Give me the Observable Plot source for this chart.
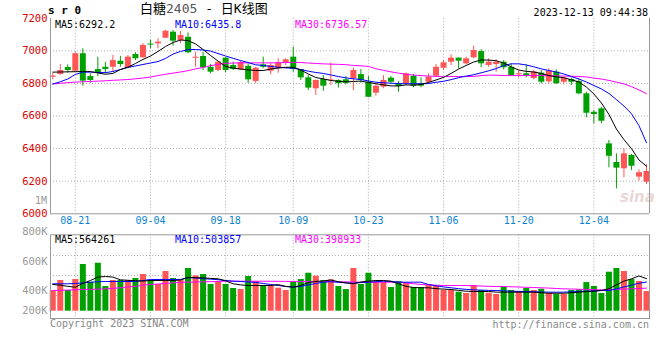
<!DOCTYPE html>
<html><head><meta charset="utf-8">
<script src="https://cdn.jsdelivr.net/npm/d3@7"></script>
<script src="https://cdn.jsdelivr.net/npm/@observablehq/plot@0.6"></script>
<style>
body{margin:0;background:#fff;}
#c{position:relative;width:660px;height:360px;font-family:"DejaVu Sans Mono",monospace;overflow:hidden;}
#c svg{position:absolute;left:0;overflow:visible;background:none;}
.t{position:absolute;white-space:nowrap;font-size:10px;line-height:10px;}
</style></head><body><div id="c"></div>
<script>
// ---- data ----
const dates = ["08-16","08-17","08-18","08-21","08-22","08-23","08-24","08-25","08-28","08-29","08-30","08-31","09-01","09-04","09-05","09-06","09-07","09-08","09-11","09-12","09-13","09-14","09-15","09-18","09-19","09-20","09-21","09-22","09-25","09-26","09-27","09-28","10-09","10-10","10-11","10-12","10-13","10-16","10-17","10-18","10-19","10-20","10-23","10-24","10-25","10-26","10-27","10-30","10-31","11-01","11-02","11-03","11-06","11-07","11-08","11-09","11-10","11-13","11-14","11-15","11-16","11-17","11-20","11-21","11-22","11-23","11-24","11-27","11-28","11-29","11-30","12-01","12-04","12-05","12-06","12-07","12-08","12-11","12-12","12-13"];
const open  = [6838,6855,6898,6875,6982,6842,6885,6899,6899,6936,6893,6977,6957,7040,7043,7077,7114,7063,7083,6955,6965,6899,6879,6955,6910,6883,6905,6812,6914,6875,6893,6926,6961,6885,6834,6767,6824,6816,6818,6822,6828,6854,6807,6740,6777,6832,6798,6798,6844,6798,6807,6844,6893,6930,6955,6920,6957,6995,6910,6916,6930,6899,6853,6859,6830,6863,6810,6869,6807,6824,6812,6736,6623,6644,6429,6315,6276,6358,6225,6194];
const high  = [6860,6916,6914,6991,7012,6859,6961,6930,6971,6965,6971,6988,7043,7065,7074,7125,7125,7118,7110,6991,6990,6916,6932,6958,6930,6936,6920,6899,6961,6924,6951,6951,7022,6885,6848,6822,6848,6926,6822,6842,6895,6885,6842,6793,6848,6842,6812,6863,6855,6834,6859,6916,6940,6975,6955,6961,7028,7006,6951,6945,6940,6920,6879,6914,6880,6879,6890,6883,6838,6832,6828,6746,6634,6654,6450,6368,6399,6364,6270,6302];
const low   = [6822,6849,6863,6873,6783,6801,6842,6859,6869,6899,6890,6940,6955,7012,7012,7075,7028,7043,6982,6899,6879,6859,6873,6866,6879,6879,6801,6798,6890,6854,6863,6910,6869,6818,6756,6726,6752,6787,6771,6791,6756,6801,6712,6721,6767,6798,6746,6787,6773,6773,6798,6842,6879,6910,6890,6914,6951,6896,6899,6869,6883,6842,6834,6834,6822,6797,6797,6793,6791,6787,6730,6589,6552,6552,6282,6153,6221,6266,6200,6180];
const close = [6845,6879,6879,6982,6814,6818,6863,6885,6940,6916,6961,6951,7033,7037,7053,7120,7059,7094,6988,6960,6896,6869,6930,6879,6886,6928,6822,6893,6899,6910,6926,6945,6885,6834,6771,6818,6783,6820,6798,6801,6879,6818,6715,6783,6818,6807,6781,6859,6783,6783,6838,6899,6926,6955,6936,6951,7002,6920,6930,6930,6896,6848,6859,6848,6870,6807,6877,6798,6832,6807,6736,6617,6609,6568,6353,6280,6368,6292,6252,6260];
const ma5   = [6869,6870,6871,6872,6873,6873,6864,6856,6861,6885,6899,6922,6947,6968,6996,7026,7051,7066,7063,7042,7008,6971,6937,6904,6894,6888,6883,6879,6879,6888,6894,6899,6899,6882,6858,6836,6828,6818,6813,6809,6812,6814,6806,6798,6791,6785,6784,6791,6789,6793,6806,6821,6837,6861,6888,6910,6931,6944,6943,6939,6925,6901,6882,6874,6870,6861,6848,6840,6835,6822,6809,6778,6735,6680,6610,6520,6455,6400,6330,6292];
const ma10  = [6796,6810,6827,6855,6869,6869,6867,6866,6873,6885,6899,6907,6916,6925,6934,6953,6980,6996,7007,7008,7005,6998,6983,6968,6954,6940,6928,6914,6910,6904,6899,6895,6893,6885,6875,6867,6861,6852,6842,6834,6828,6824,6815,6807,6804,6801,6799,6798,6798,6798,6799,6807,6813,6823,6835,6845,6853,6865,6877,6891,6910,6920,6920,6913,6902,6889,6879,6870,6858,6842,6827,6809,6787,6766,6738,6701,6661,6614,6541,6436];
const ma30  = [6797,6800,6805,6808,6810,6812,6814,6816,6819,6821,6824,6828,6833,6839,6848,6856,6863,6870,6878,6889,6898,6909,6916,6923,6925,6926,6926,6926,6926,6926,6927,6928,6929,6928,6925,6922,6920,6918,6917,6915,6910,6908,6904,6890,6880,6871,6863,6856,6851,6848,6845,6843,6842,6842,6842,6842,6843,6848,6851,6850,6848,6848,6848,6848,6848,6848,6847,6846,6845,6844,6842,6840,6832,6827,6818,6808,6797,6780,6760,6737];
const volume = [358,531,358,548,808,502,830,427,531,531,531,566,635,531,462,687,566,531,739,611,635,462,502,462,393,375,600,514,445,445,398,358,514,548,657,605,531,543,427,375,739,462,657,502,502,410,514,484,410,410,462,427,358,358,329,306,445,358,311,289,410,358,340,393,358,380,306,289,289,358,370,496,427,306,675,739,687,548,514,340].map(v => v * 1000);
const vma5  = [462,450,430,415,480,531,590,600,590,543,535,528,522,531,531,531,531,540,585,580,577,568,560,525,474,455,445,445,445,445,460,430,416,445,495,515,522,540,510,490,474,505,520,531,531,520,474,430,410,405,405,390,382,375,360,346,341,341,341,330,329,329,329,329,329,320,311,311,311,320,329,340,346,358,387,455,520,560,610,564].map(v => v * 1000);
const vma10 = [474,474,474,480,490,500,510,514,514,514,514,514,530,550,548,548,548,550,580,575,562,555,545,531,520,514,505,498,480,462,445,427,416,430,455,480,502,510,500,490,484,495,502,510,519,515,502,502,502,502,462,440,420,405,390,378,370,365,360,358,352,346,343,341,338,333,329,329,329,335,342,346,352,358,358,385,420,450,484,504].map(v => v * 1000);
const vma30 = [358,362,366,370,375,378,382,386,395,405,420,430,450,462,470,480,490,500,502,505,508,512,515,519,519,519,519,519,519,518,517,516,515,515,514,514,514,514,510,508,505,502,502,502,502,502,502,490,475,462,455,450,445,445,445,445,440,435,430,428,427,423,418,414,410,405,400,393,387,384,380,377,373,370,372,377,382,387,393,399].map(v => v * 1000);
const priceTicks = [6000, 6200, 6400, 6600, 6800, 7000, 7200];
const dateTicks = ["08-21","09-04","09-18","10-09","10-23","11-06","11-20","12-04"];
const volAxisLabels = ["800K","600K","400K","200K"];
const volAxisAt = [1380000, 860000, 358000, 12000]; // volume levels where the reference prints these labels
const volGrid = [964000, 618000, 272000];
const legendPrice = ["MA5:6292.2","MA10:6435.8","MA30:6736.57"];
const legendVol = ["MA5:564261","MA10:503857","MA30:398933"];

// ---- drawing ----
const RED = "#ff5555", GREEN = "#00a000", GRID = "#aaa", BORDER = "#999";
const MONO = "DejaVu Sans Mono";
const idx = d3.range(dates.length);
const col = i => close[i] >= open[i] ? RED : GREEN;
const xTicks = dateTicks.map(d => dates.indexOf(d));
const xDomain = [-0.3, dates.length - 0.6];
const dot = {stroke: GRID, strokeDasharray: "1,2"};
const bodyEnd = i => Math.abs(close[i] - open[i]) < 6 ? (open[i] + close[i]) / 2 + 3 : close[i];
const bodyStart = i => Math.abs(close[i] - open[i]) < 6 ? (open[i] + close[i]) / 2 - 3 : open[i];

const price = Plot.plot({
  width: 660, height: 228,
  marginLeft: 50, marginRight: 11, marginTop: 17.7, marginBottom: 14.7,
  style: {background: "none", overflow: "visible"},
  x: {domain: xDomain, axis: null},
  y: {domain: [6000, 7200], axis: null},
  marks: [
    Plot.ruleY(priceTicks.slice(1, -1), dot),
    Plot.ruleX(xTicks, dot),
    Plot.ruleX(idx, {x: i => i, y1: i => low[i], y2: i => high[i], stroke: col, strokeWidth: 1}),
    Plot.ruleX(idx, {x: i => i, y1: bodyStart, y2: bodyEnd, stroke: col, strokeWidth: 6}),
    Plot.line(idx, {x: i => i, y: i => ma30[i], stroke: "#ff00ff", strokeWidth: 1}),
    Plot.line(idx, {x: i => i, y: i => ma10[i], stroke: "#0000ff", strokeWidth: 1}),
    Plot.line(idx, {x: i => i, y: i => ma5[i], stroke: "#000", strokeWidth: 1}),
    Plot.ruleX(xDomain, {stroke: BORDER}),
    Plot.ruleY([6000], {stroke: BORDER}),
    Plot.axisY(priceTicks, {anchor: "left", tickSize: 0, tickPadding: 3, tickFormat: d => String(d), fill: "#e00000", fontSize: 10.5, fontFamily: MONO}),
    Plot.axisX(xTicks, {anchor: "bottom", tickSize: 0, tickPadding: 3, tickFormat: i => dates[i], fill: "#0a84d0", fontSize: 10, fontFamily: MONO})
  ]
});
price.style.top = "0px";

const vol = Plot.plot({
  width: 660, height: 100,
  marginLeft: 50, marginRight: 11, marginTop: 6.3, marginBottom: 10,
  style: {background: "none", overflow: "visible"},
  x: {domain: xDomain, axis: null},
  y: {domain: [0, 1322000], insetBottom: 7.3, axis: null},
  marks: [
    Plot.ruleY(volGrid, dot),
    Plot.ruleX(xTicks, dot),
    Plot.ruleX(idx, {x: i => i, y1: 0, y2: i => volume[i], stroke: col, strokeWidth: 6}),
    Plot.line(idx, {x: i => i, y: i => vma30[i], stroke: "#ff00ff", strokeWidth: 1}),
    Plot.line(idx, {x: i => i, y: i => vma10[i], stroke: "#0000ff", strokeWidth: 1}),
    Plot.line(idx, {x: i => i, y: i => vma5[i], stroke: "#000", strokeWidth: 1}),
    Plot.frame({stroke: BORDER}),
    Plot.axisY(volAxisAt, {anchor: "left", tickSize: 0, tickPadding: 3, tickFormat: (d, k) => volAxisLabels[k], fill: "#999", fontSize: 10.5, fontFamily: MONO})
  ]
});
vol.style.top = "228px";

const c = document.getElementById("c");
c.append(price, vol);

function txt(html, css) {
  const d = document.createElement("div");
  d.className = "t";
  d.innerHTML = html;
  Object.assign(d.style, css);
  c.append(d);
}
txt("s r 0", {left: "48px", top: "6px", fontWeight: "bold", fontSize: "11px"});
txt('白糖<span style="color:#555">2405</span> - 日K线图', {left: "140px", top: "2px", fontSize: "13px", lineHeight: "14px", fontFamily: '"DejaVu Sans Mono","Noto Sans CJK SC"'});
txt("2023-12-13 09:44:38", {right: "12px", top: "8px"});
const legColors = ["#000", "#0000ff", "#ff00ff"];
const legLeft = [55, 175, 295];
legendPrice.forEach((s, k) => txt(s, {left: legLeft[k] + "px", top: "20px", color: legColors[k]}));
legendVol.forEach((s, k) => txt(s, {left: legLeft[k] + "px", top: "235px", color: legColors[k]}));
txt("1M", {right: "613px", top: "196px", color: "#999"});
txt("Copyright 2023 SINA.COM", {left: "50px", top: "319px", color: "#888"});
txt("http://finance.sina.com.cn", {right: "11px", top: "320px", color: "#888"});
txt("sina", {left: "620px", top: "190px", fontSize: "15px", lineHeight: "15px", fontWeight: "bold", fontStyle: "italic", fontFamily: "DejaVu Sans", color: "rgba(200,150,150,0.4)"});
</script></body></html>
